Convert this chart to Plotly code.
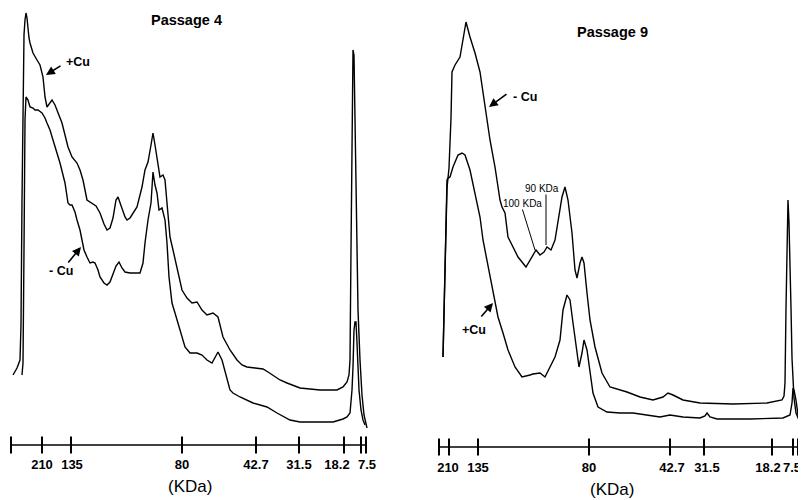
import plotly.graph_objects as go

# ---------------- data (migration position, optical density) ----------------
# Passage 4, +Cu
p4_pos_x = [13, 17, 20, 21, 22, 23, 24, 25, 26, 27, 28, 29, 30, 33, 37, 40, 43, 45, 47, 50, 52, 55, 58, 62,
            65, 68, 72, 77, 80, 83, 87, 92, 96, 100, 104, 107, 110, 113, 116, 118, 120, 122, 125, 127, 130,
            137, 142, 145, 148, 151, 153, 155, 157, 160, 163, 165, 167, 170, 173, 177, 182, 187, 192, 197,
            202, 207, 213, 218, 223, 230, 237, 242, 247, 255, 263, 268, 273, 280, 287, 295, 300, 310, 320,
            330, 337, 343, 347, 349, 350, 351, 352, 353, 354, 355, 356, 357, 358, 360, 362, 364, 367]
p4_pos_y = [80, 87, 95, 130, 255, 375, 420, 435, 442, 437, 425, 417, 412, 402, 395, 390, 378, 358, 348, 352,
            355, 350, 343, 332, 320, 308, 298, 292, 285, 275, 255, 252, 249, 242, 231, 225, 227, 237, 255,
            258, 252, 245, 238, 235, 237, 248, 268, 285, 293, 310, 322, 310, 295, 278, 280, 275, 252, 218,
            205, 188, 165, 157, 152, 153, 145, 140, 142, 138, 118, 105, 95, 90, 88, 87, 86, 83, 80, 75, 72,
            69, 67, 66, 65, 65, 65, 68, 73, 80, 95, 205, 335, 405, 400, 335, 255, 195, 145, 95, 60, 40, 27]

# Passage 4, -Cu
p4_neg_x = [22, 23, 24, 25, 26, 28, 30, 33, 35, 38, 42, 45, 47, 50, 53, 57, 60, 63, 65, 68, 70, 72, 75, 77,
            80, 82, 84, 87, 90, 93, 95, 98, 100, 104, 107, 110, 113, 116, 119, 122, 125, 130, 140, 143, 145,
            148, 151, 153, 155, 157, 159, 162, 165, 167, 169, 172, 175, 180, 185, 190, 197, 202, 207, 212,
            215, 218, 222, 227, 230, 233, 240, 253, 267, 277, 290, 300, 317, 333, 343, 347, 350, 352, 353,
            354, 355, 356, 357, 358, 359, 361, 363, 365]
p4_neg_y = [80, 92, 205, 335, 358, 355, 348, 347, 345, 345, 342, 337, 332, 325, 315, 303, 292, 280, 272, 252,
            250, 250, 243, 235, 225, 215, 205, 198, 192, 193, 192, 185, 178, 172, 170, 173, 182, 189, 193,
            187, 183, 182, 182, 192, 212, 235, 252, 283, 270, 262, 245, 247, 235, 212, 178, 152, 142, 125,
            108, 102, 102, 100, 95, 92, 98, 103, 95, 75, 65, 62, 58, 52, 48, 42, 35, 33, 33, 33, 36, 38, 42,
            65, 88, 125, 133, 133, 112, 85, 65, 45, 35, 30]

# Passage 9, -Cu
p9_neg_x = [443, 445, 447, 449, 451, 452, 455, 460, 463, 466, 470, 475, 480, 483, 487, 490, 495, 500, 502,
            505, 508, 512, 518, 526, 532, 536, 540, 544, 547, 551, 555, 558, 562, 565, 568, 572, 575, 577,
            580, 582, 584, 587, 590, 595, 602, 610, 620, 627, 640, 653, 663, 668, 673, 683, 700, 733, 767,
            782, 784, 785, 786, 787, 788, 789, 790, 791, 792, 794, 796, 799]
p9_neg_y = [101, 200, 270, 290, 340, 386, 393, 401, 421, 436, 421, 405, 386, 365, 341, 318, 291, 258, 251,
            245, 221, 213, 201, 191, 201, 208, 203, 206, 211, 208, 218, 238, 261, 271, 258, 225, 188, 180,
            195, 201, 195, 165, 138, 111, 85, 71, 68, 66, 61, 58, 61, 65, 63, 58, 55, 54, 55, 58, 62, 75,
            150, 230, 258, 235, 200, 150, 100, 60, 45, 38]

# Passage 9, +Cu
p9_pos_x = [443, 446, 447, 448, 450, 453, 458, 462, 465, 470, 475, 480, 483, 485, 490, 493, 498, 503, 508,
            515, 522, 530, 533, 540, 545, 550, 555, 560, 563, 567, 570, 573, 577, 579, 582, 584, 587, 590,
            593, 598, 607, 620, 633, 660, 670, 683, 700, 705, 707, 710, 717, 750, 783, 790, 792, 793, 794,
            796, 798, 800]
p9_pos_y = [101, 250, 278, 280, 281, 291, 303, 305, 303, 288, 265, 241, 218, 208, 181, 165, 141, 125, 108,
            91, 81, 83, 84, 85, 81, 91, 101, 118, 148, 163, 158, 135, 108, 91, 105, 118, 108, 88, 65, 51, 46,
            45, 45, 41, 43, 41, 40, 42, 45, 41, 39, 39, 40, 43, 55, 70, 68, 58, 43, 38]

# Molecular-weight ruler (KDa)
mw_labels = ["210", "135", "80", "42.7", "31.5", "18.2", "7.5"]
p4_mw_pos = [42, 71, 182, 256, 299, 344, 361]
p4_ruler_ends = [11, 366]
p9_mw_pos = [449, 478, 589, 670, 704, 772, 793]
p9_ruler_ends = [439, 798]
p4_ruler_level = 10
p9_ruler_level = 11

# ---------------- layout helpers ----------------
FONT = "Liberation Sans, Arial, sans-serif"
LINE = dict(color="black", width=1.4)
W, H = 798, 492          # figure size; page body adds an 8 px margin inside the 806x500 window
OFF = 8

def px(sx):
    return (sx - OFF) / W

def py(sy):
    return 1 - (sy - OFF) / H

# label placement offsets (printed labels sit slightly apart at the crowded low-MW end)
p4_label_shift = [0, 1, 0, 0, 0, -7, 6]
p9_label_shift = [-1, 0, 0, 2, 3, -4, -1]
p4_label_x = [p + s for p, s in zip(p4_mw_pos, p4_label_shift)]
p9_label_x = [p + s for p, s in zip(p9_mw_pos, p9_label_shift)]

fig = go.Figure()

fig.add_trace(go.Scatter(x=p4_pos_x, y=p4_pos_y, mode="lines", line=LINE, xaxis="x", yaxis="y"))
fig.add_trace(go.Scatter(x=p4_neg_x, y=p4_neg_y, mode="lines", line=LINE, xaxis="x", yaxis="y"))
fig.add_trace(go.Scatter(x=p9_neg_x, y=p9_neg_y, mode="lines", line=LINE, xaxis="x2", yaxis="y2"))
fig.add_trace(go.Scatter(x=p9_pos_x, y=p9_pos_y, mode="lines", line=LINE, xaxis="x2", yaxis="y2"))

# rulers
for ends, pos, lvl, xa, ya in [(p4_ruler_ends, p4_mw_pos, p4_ruler_level, "x", "y"),
                               (p9_ruler_ends, p9_mw_pos, p9_ruler_level, "x2", "y2")]:
    fig.add_trace(go.Scatter(x=ends, y=[lvl, lvl], mode="lines",
                             line=dict(color="black", width=1.6), xaxis=xa, yaxis=ya))
    ticks = [ends[0]] + pos + [ends[1]]
    fig.add_trace(go.Scatter(x=ticks, y=[lvl] * len(ticks), mode="markers",
                             marker=dict(symbol="line-ns", size=12,
                                         line=dict(color="black", width=2)),
                             xaxis=xa, yaxis=ya))

tickfont = dict(family=FONT, size=13, color="black", weight="bold")
common_x = dict(showgrid=False, zeroline=False, showline=False, ticks="", tickangle=0,
                automargin=False, tickfont=tickfont, ticktext=mw_labels)
common_y = dict(showgrid=False, zeroline=False, showline=False, showticklabels=False, ticks="",
                automargin=False)

fig.update_layout(
    width=W, height=H,
    margin=dict(l=0, r=0, t=0, b=0, autoexpand=False),
    paper_bgcolor="white", plot_bgcolor="white",
    showlegend=False,
    xaxis=dict(domain=[0, px(400)], range=[OFF, 400], tickvals=p4_label_x, **common_x),
    xaxis2=dict(domain=[px(400), 1], range=[400, 806], tickvals=p9_label_x, anchor="y2", **common_x),
    yaxis=dict(domain=[py(455), 1], range=[0, 455 - OFF], **common_y),
    yaxis2=dict(domain=[py(458), 1], range=[0, 458 - OFF], anchor="x2", **common_y),
)

anns = []
# titles and axis captions
for txt, sx, sy, size, bold in [("Passage 4", 186, 20, 14.5, True), ("Passage 9", 612, 32, 14.5, True),
                                ("(KDa)", 190, 486, 17, False), ("(KDa)", 612, 489, 17, False)]:
    anns.append(dict(text=txt, xref="paper", yref="paper", x=px(sx), y=py(sy),
                     showarrow=False, xanchor="center", yanchor="middle",
                     font=dict(family=FONT, size=size, color="black",
                               weight="bold" if bold else "normal")))

# curve labels
lab_font = dict(family=FONT, size=12.5, color="black", weight="bold")
small_font = dict(family=FONT, size=10, color="black")
anns += [
    dict(text="+Cu", x=78, y=393, xref="x", yref="y", showarrow=False, font=lab_font),
    dict(text="- Cu", x=61, y=184, xref="x", yref="y", showarrow=False, font=lab_font),
    dict(text="- Cu", x=525, y=361, xref="x2", yref="y2", showarrow=False, font=lab_font),
    dict(text="+Cu", x=474, y=128, xref="x2", yref="y2", showarrow=False, font=lab_font),
    dict(text="90 KDa", x=542, y=270, xref="x2", yref="y2", showarrow=False, font=small_font),
    dict(text="100 KDa", x=522, y=255, xref="x2", yref="y2", showarrow=False, font=small_font),
]
# arrows
for tip, tail, xr, yr in [((46, 380), (62, 390), "x", "y"), ((81, 208), (67, 191), "x", "y"),
                          ((489, 351), (508, 365), "x2", "y2"), ((493, 155), (480, 140), "x2", "y2")]:
    anns.append(dict(text="", x=tip[0], y=tip[1], ax=tail[0], ay=tail[1], xref=xr, yref=yr,
                     axref=xr, ayref=yr, showarrow=True, arrowhead=2, arrowsize=1.1,
                     arrowwidth=1.6, arrowcolor="black"))
# leader lines
for a, b in [((546, 213), (546, 265)), ((535, 208), (522, 250))]:
    anns.append(dict(text="", x=a[0], y=a[1], ax=b[0], ay=b[1], xref="x2", yref="y2",
                     axref="x2", ayref="y2", showarrow=True, arrowhead=0,
                     arrowwidth=1, arrowcolor="black"))
fig.update_layout(annotations=anns)

fig.write_html("out.html")
